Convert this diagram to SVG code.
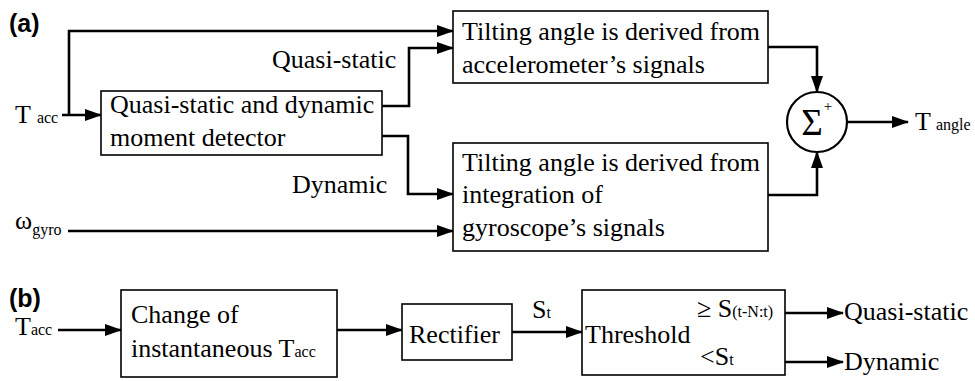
<svg xmlns="http://www.w3.org/2000/svg" width="975" height="381" viewBox="0 0 975 381">
  <style>
    .box { fill: #fff; stroke: #000; stroke-width: 1.6; }
    .wire { fill: none; stroke: #000; stroke-width: 2.6; }
    .t { font-family: "Liberation Serif", "Times New Roman", serif; font-size: 26px; fill: #000; }
    .sub { font-size: 16px; }
    .sigma { font-size: 37px; }
    .plus { font-size: 15px; }
    .panel { font-family: "Liberation Sans", Arial, sans-serif; font-size: 25px; font-weight: bold; fill: #000; }
  </style>
  <defs>
    <marker id="arrow" markerUnits="userSpaceOnUse" markerWidth="17" markerHeight="12" refX="16" refY="6" orient="auto">
      <path d="M0,0 L17,6 L0,12 z" fill="#000"/>
    </marker>
  </defs>

  <rect width="975" height="381" fill="#fff"/>

  <!-- panel (a) -->
  <text class="panel" x="9" y="32">(a)</text>
  <text class="t" x="15" y="123">T<tspan class="sub" dx="6">acc</tspan></text>
  <text class="t" x="15" y="229">ω<tspan class="sub" dy="6">gyro</tspan></text>
  <text class="t" x="272" y="68">Quasi-static</text>
  <text class="t" x="292" y="193">Dynamic</text>

  <g id="connectors-a">
    <path class="wire" d="M62,115 H101" marker-end="url(#arrow)"/>
    <path class="wire" d="M69,115 V31 H453" marker-end="url(#arrow)"/>
    <path class="wire" d="M382,106 H409 V48 H453" marker-end="url(#arrow)"/>
    <path class="wire" d="M382,136 H408 V194 H453" marker-end="url(#arrow)"/>
    <path class="wire" d="M68,231 H453" marker-end="url(#arrow)"/>
    <path class="wire" d="M768,47 H817 V92" marker-end="url(#arrow)"/>
    <path class="wire" d="M768,195 H817 V152" marker-end="url(#arrow)"/>
    <path class="wire" d="M847,122 H908" marker-end="url(#arrow)"/>
  </g>

  <g id="detector">
    <rect class="box" x="101" y="91" width="281" height="64"/>
    <text class="t" x="110" y="113">Quasi-static and dynamic</text>
    <text class="t" x="110" y="146">moment detector</text>
  </g>

  <g id="accel-angle">
    <rect class="box" x="453" y="11" width="315" height="72"/>
    <text class="t" x="462" y="40">Tilting angle is derived from</text>
    <text class="t" x="462" y="73">accelerometer’s signals</text>
  </g>

  <g id="gyro-angle">
    <rect class="box" x="453" y="143" width="315" height="108"/>
    <text class="t" x="462" y="171">Tilting angle is derived from</text>
    <text class="t" x="462" y="203">integration of</text>
    <text class="t" x="462" y="236">gyroscope’s signals</text>
  </g>

  <g id="sum">
    <circle cx="817" cy="122" r="30" fill="#fff" stroke="#000" stroke-width="2.2"/>
    <text class="t sigma" x="812" y="135" text-anchor="middle">Σ</text>
    <text class="t plus" x="828" y="111" text-anchor="middle">+</text>
  </g>

  <text class="t" x="915" y="130">T<tspan class="sub" dx="5">angle</tspan></text>

  <!-- panel (b) -->
  <text class="panel" x="9" y="307">(b)</text>
  <text class="t" x="15" y="335">T<tspan class="sub">acc</tspan></text>
  <text class="t" x="532" y="318">S<tspan class="sub">t</tspan></text>

  <g id="connectors-b">
    <path class="wire" d="M58,330 H121" marker-end="url(#arrow)"/>
    <path class="wire" d="M337,330 H402" marker-end="url(#arrow)"/>
    <path class="wire" d="M512,332 H582" marker-end="url(#arrow)"/>
    <path class="wire" d="M785,313 H843" marker-end="url(#arrow)"/>
    <path class="wire" d="M785,362 H843" marker-end="url(#arrow)"/>
  </g>

  <g id="change">
    <rect class="box" x="121" y="290" width="216" height="87"/>
    <text class="t" x="131" y="323">Change of</text>
    <text class="t" x="131" y="357">instantaneous T<tspan class="sub">acc</tspan></text>
  </g>

  <g id="rectifier">
    <rect class="box" x="402" y="304" width="110" height="56"/>
    <text class="t" x="409" y="343">Rectifier</text>
  </g>

  <g id="threshold">
    <rect class="box" x="582" y="290" width="203" height="85"/>
    <text class="t" x="585" y="343">Threshold</text>
    <text class="t" x="697" y="317">≥ S<tspan class="sub">(t-N:t)</tspan></text>
    <text class="t" x="700" y="365">&lt;S<tspan class="sub">t</tspan></text>
  </g>

  <text class="t" x="844" y="320">Quasi-static</text>
  <text class="t" x="844" y="370">Dynamic</text>
</svg>
